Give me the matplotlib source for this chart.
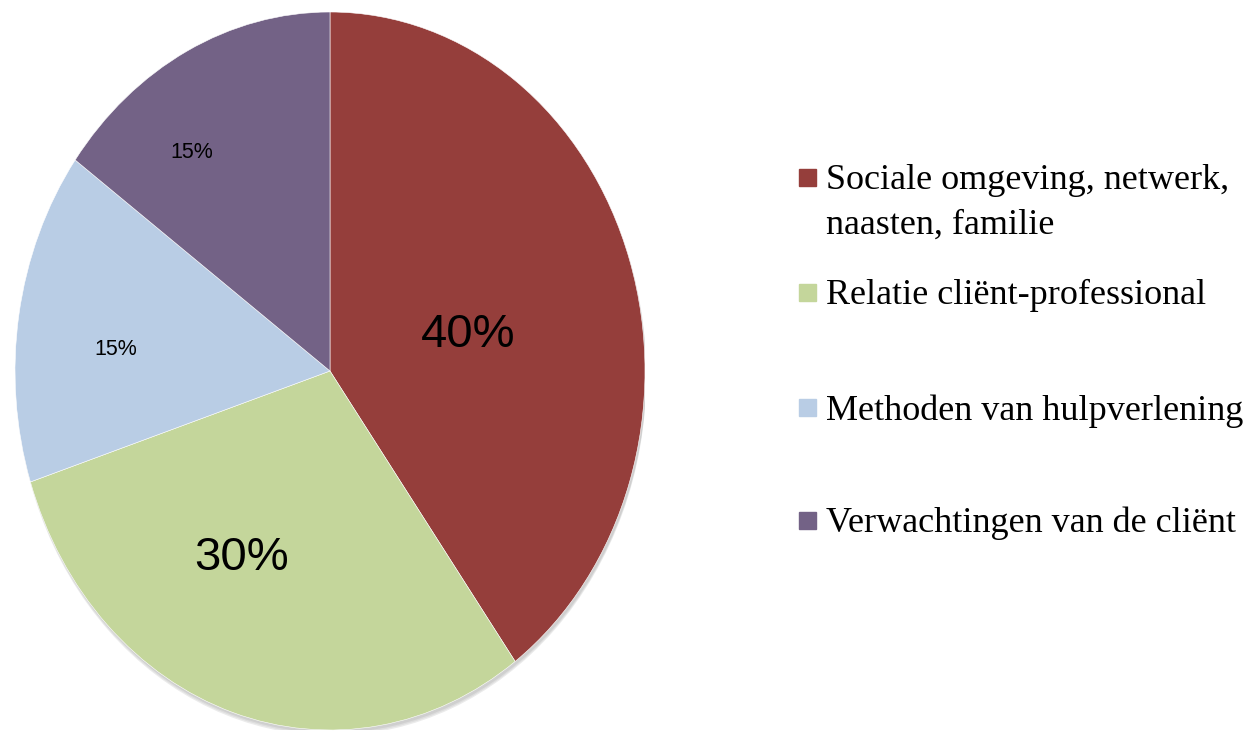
import matplotlib.pyplot as plt
from matplotlib.patches import Ellipse, Rectangle

# data
labels = ['Sociale omgeving, netwerk,\nnaasten, familie',
          'Relatie cliënt-professional',
          'Methoden van hulpverlening',
          'Verwachtingen van de cliënt']
values = [40, 30, 15, 15]
colors = ['#953E3B', '#C4D69B', '#B9CDE5', '#736286']

# layout of percentage labels (axes data coords) and their sizes
pct_xy = [(0.44, 0.10), (-0.28, -0.52), (-0.68, 0.06), (-0.44, 0.61)]
pct_size = [34, 34, 15.5, 15.5]

W, H = 1254, 733
fig = plt.figure(figsize=(W / 100, H / 100), dpi=100)
ax = fig.add_axes([15 / W, 3 / H, 630 / W, 718 / H])

# soft shadow under the pie
for i, a in enumerate([0.06, 0.06, 0.08]):
    ax.add_patch(Ellipse((0.004, -0.008 - 0.004 * i), 2.0, 2.0, color='black',
                         alpha=a, lw=0, zorder=0))

wedges, texts, autotexts = ax.pie(values, colors=colors, startangle=90,
                                  counterclock=False, autopct='%1.0f%%',
                                  wedgeprops=dict(edgecolor='white', linewidth=0.4))
for t, xy, s in zip(autotexts, pct_xy, pct_size):
    t.set_position(xy)
    t.set_fontsize(s)
    t.set_fontfamily('Liberation Sans')
    t.set_color('black')
    t.set_ha('center')
    t.set_va('center')

ax.set_aspect('auto')
ax.set_xlim(-1, 1)
ax.set_ylim(-1, 1)
ax.axis('off')

# legend drawn by hand so the square lines up with the first text line
leg_y = [178, 293, 408, 521]
for lab, c, y in zip(labels, colors, leg_y):
    fig.patches.append(Rectangle((799 / W, 1 - (y + 8) / H), 17 / W, 17 / H,
                                 transform=fig.transFigure, color=c))
    fig.text(826 / W, 1 - (y - 14) / H, lab, fontsize=26, family='Liberation Serif',
             va='top', ha='left', linespacing=1.45)

fig.savefig('out.png', dpi=100)
